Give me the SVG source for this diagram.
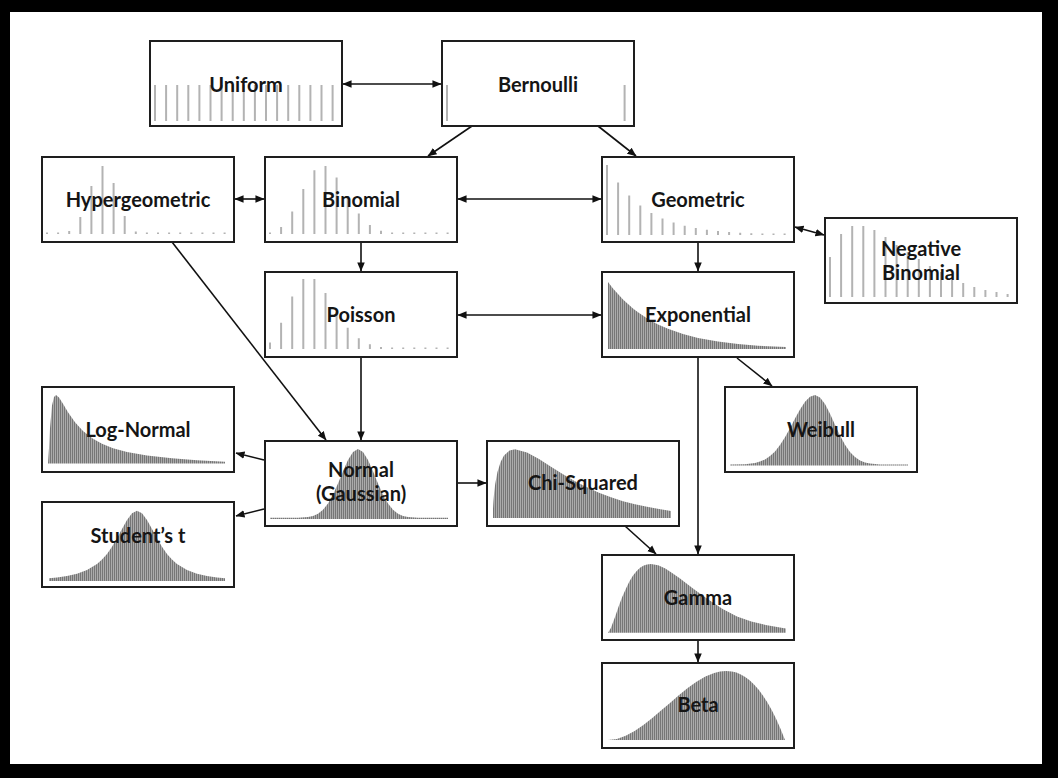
<svg xmlns="http://www.w3.org/2000/svg" width="1058" height="778" viewBox="0 0 1058 778">
<defs>
<style>
.box{fill:#fff;stroke:#1e1e1e;stroke-width:2}
.bars{fill:none;stroke:#b3b3b3;stroke-width:2}
.cont{fill:url(#hatch)}
.lbl{font-family:Lato,"Open Sans","DejaVu Sans",sans-serif;font-weight:700;font-size:20px;fill:#151515;text-anchor:middle}
.edge{fill:none;stroke:#111;stroke-width:1.6}
</style>
<pattern id="hatch" width="2" height="4" patternUnits="userSpaceOnUse"><rect width="2" height="4" fill="#ababab"/><rect width="1" height="4" fill="#767676"/></pattern>
<marker id="ah" viewBox="0 0 10 10" refX="9.5" refY="5" markerWidth="9" markerHeight="9" markerUnits="userSpaceOnUse" orient="auto-start-reverse"><path d="M0,0.8 L10,5 L0,9.2 Z" fill="#111"/></marker>
</defs>
<rect x="0" y="0" width="1058" height="778" fill="#000"/>
<rect x="10" y="12" width="1032" height="752" fill="#fff"/>

<g id="connectors">
<line class="edge" x1="343" y1="84" x2="441" y2="84" marker-start="url(#ah)" marker-end="url(#ah)"/>
<line class="edge" x1="472" y1="126" x2="428" y2="156" marker-end="url(#ah)"/>
<line class="edge" x1="598" y1="126" x2="636" y2="156" marker-end="url(#ah)"/>
<line class="edge" x1="235" y1="199" x2="264" y2="199" marker-start="url(#ah)" marker-end="url(#ah)"/>
<line class="edge" x1="458" y1="199" x2="601" y2="199" marker-start="url(#ah)" marker-end="url(#ah)"/>
<line class="edge" x1="795" y1="227" x2="824" y2="235" marker-start="url(#ah)" marker-end="url(#ah)"/>
<line class="edge" x1="361" y1="242" x2="361" y2="271" marker-end="url(#ah)"/>
<line class="edge" x1="698" y1="242" x2="698" y2="271" marker-end="url(#ah)"/>
<line class="edge" x1="458" y1="315" x2="601" y2="315" marker-start="url(#ah)" marker-end="url(#ah)"/>
<line class="edge" x1="172" y1="242" x2="326" y2="440" marker-end="url(#ah)"/>
<line class="edge" x1="361" y1="358" x2="361" y2="440" marker-end="url(#ah)"/>
<line class="edge" x1="698" y1="358" x2="698" y2="554" marker-end="url(#ah)"/>
<line class="edge" x1="737" y1="358" x2="772" y2="386" marker-end="url(#ah)"/>
<line class="edge" x1="264" y1="460" x2="236" y2="453" marker-end="url(#ah)"/>
<line class="edge" x1="264" y1="509" x2="236" y2="516" marker-end="url(#ah)"/>
<line class="edge" x1="458" y1="483" x2="486" y2="483" marker-end="url(#ah)"/>
<line class="edge" x1="625" y1="526" x2="656" y2="554" marker-end="url(#ah)"/>
<line class="edge" x1="698" y1="641" x2="698" y2="662" marker-end="url(#ah)"/>
</g>

<g id="uniform" transform="translate(150,41)">
<rect class="box" width="192" height="85"/>
<path class="bars" d="M5,80V44M16.1,80V44M27.2,80V44M38.3,80V44M49.4,80V44M60.5,80V44M71.6,80V44M82.7,80V44M93.8,80V44M104.9,80V44M116,80V44M127.1,80V44M138.2,80V44M149.3,80V44M160.4,80V44M171.5,80V44M182.6,80V44"/>
<text class="lbl" x="96" y="51">Uniform</text>
</g>

<g id="bernoulli" transform="translate(442,41)">
<rect class="box" width="192" height="85"/>
<path class="bars" d="M5,80V44M182.6,80V44"/>
<text class="lbl" x="96" y="51">Bernoulli</text>
</g>

<g id="hypergeometric" transform="translate(42,157)">
<rect class="box" width="192" height="85"/>
<path class="bars" d="M5,77V75.5M16.1,77V75.5M27.2,77V74M38.3,77V60M49.4,77V29M60.5,77V9M71.6,77V26M82.7,77V59M93.8,77V74.5M104.9,77V75.5M116,77V75.5M127.1,77V75.5M138.2,77V75.5M149.3,77V75.5M160.4,77V75.5M171.5,77V75.5M182.6,77V75.5"/>
<text class="lbl" x="96" y="50">Hypergeometric</text>
</g>

<g id="binomial" transform="translate(265,157)">
<rect class="box" width="192" height="85"/>
<path class="bars" d="M5,77V75.5M16.1,77V69.9M27.2,77V54.5M38.3,77V32M49.4,77V13.2M60.5,77V9M71.6,77V20.4M82.7,77V39.2M93.8,77V56.5M104.9,77V67.9M116,77V73.7M127.1,77V75.5M138.2,77V75.5M149.3,77V75.5M160.4,77V75.5M171.5,77V75.5M182.6,77V75.5"/>
<text class="lbl" x="96" y="50">Binomial</text>
</g>

<g id="geometric" transform="translate(602,157)">
<rect class="box" width="192" height="85"/>
<path class="bars" d="M5,78V8M16.1,78V25.5M27.2,78V38.6M38.3,78V48.5M49.4,78V55.9M60.5,78V61.4M71.6,78V65.5M82.7,78V68.7M93.8,78V71M104.9,78V72.7M116,78V74.1M127.1,78V75M138.2,78V75.8M149.3,78V76.3M160.4,78V76.5M171.5,78V76.5M182.6,78V76.5"/>
<text class="lbl" x="96" y="50">Geometric</text>
</g>

<g id="negative-binomial" transform="translate(825,218)">
<rect class="box" width="192" height="85"/>
<path class="bars" d="M5,79V39M16.1,79V16M27.2,79V8M38.3,79V8M49.4,79V12M60.5,79V19M71.6,79V27M82.7,79V34M93.8,79V41M104.9,79V48M116,79V54M127.1,79V60M138.2,79V65M149.3,79V69M160.4,79V72M171.5,79V74M182.6,79V76"/>
<text class="lbl" x="96" y="38">Negative</text>
<text class="lbl" x="96" y="62">Binomial</text>
</g>

<g id="poisson" transform="translate(265,272)">
<rect class="box" width="192" height="85"/>
<path class="bars" d="M5,77V70.4M16.1,77V50.7M27.2,77V24.5M38.3,77V7M49.4,77V7M60.5,77V21M71.6,77V39.7M82.7,77V55.7M93.8,77V66.3M104.9,77V72.3M116,77V75.1M127.1,77V75.5M138.2,77V75.5M149.3,77V75.5M160.4,77V75.5M171.5,77V75.5M182.6,77V75.5"/>
<text class="lbl" x="96" y="50">Poisson</text>
</g>

<g id="exponential" transform="translate(602,272)">
<rect class="box" width="192" height="85"/>
<path class="cont" d="M6,77L6,10L11,16.4L16,22.1L21,27.4L26,32.1L31,36.4L36,40.2L46,46.9L56,52.4L66,56.8L81,62.1L96,65.9L116,69.6L136,72L156,73.7L184,75.1L184,77Z"/>
<text class="lbl" x="96" y="50">Exponential</text>
</g>

<g id="log-normal" transform="translate(42,387)">
<rect class="box" width="192" height="85"/>
<path class="cont" d="M6,76.5L7,61L8,41.2L10,18.5L12,10L14,8L17,10.4L21,16.7L26,25.2L33,35.3L41,44L51,51.8L60,56.8L71,61.2L85,65L105,68.4L130,71.2L155,73.2L183,74.8L183,76.5Z"/>
<text class="lbl" x="96" y="50">Log-Normal</text>
</g>

<g id="weibull" transform="translate(725,387)">
<rect class="box" width="192" height="85"/>
<path class="cont" d="M5,78.5L5,77.5L20,77.3L30,76L35,74.6L40,72.4L45,69.1L50,64.4L55,58L60,50.2L65,41.2L70,31.6L75,22.4L80,14.8L85,9.8L90,8L95,10.4L100,17L105,26.7L110,37.7L115,48.4L120,57.7L125,64.9L130,70.1L135,73.5L140,75.5L145,76.6L155,77.5L183,77.5L183,78.5Z"/>
<text class="lbl" x="96" y="50">Weibull</text>
</g>

<g id="normal" transform="translate(265,441)">
<rect class="box" width="192" height="85"/>
<path class="cont" d="M5,78L5,76.8L33,76.8L43,76.1L48,74.9L53,72.7L58,68.7L63,62.5L68,53.6L73,42.5L78,30.2L83,19L88,10.9L93,8L98,10.9L103,19L108,30.2L113,42.5L118,53.6L123,62.5L128,68.7L133,72.7L138,74.9L143,76.1L153,76.8L183,76.8L183,78Z"/>
<text class="lbl" x="96" y="36">Normal</text>
<text class="lbl" x="96" y="60">(Gaussian)</text>
</g>

<g id="chi-squared" transform="translate(487,441)">
<rect class="box" width="192" height="85"/>
<path class="cont" d="M6,77L6,68L6.4,61.1L7.1,52.3L8.2,42.9L10.4,31.2L13.7,20.7L17,14.6L22.5,9.6L28,8.3L40,11.5L52,18.1L64,25.7L76,33.2L88,40.2L100,46.3L112,51.7L124,56.2L136,60.3L148,63.2L160,65.8L172,68L184,70L184,77Z"/>
<text class="lbl" x="96" y="49">Chi-Squared</text>
</g>

<g id="students-t" transform="translate(42,502)">
<rect class="box" width="192" height="85"/>
<path class="cont" d="M7,79L7,76.2L15,75.5L25,74L35,71.8L45,68.1L55,62L60,57.6L65,51.9L70,44.8L75,36.3L80,27L85,18L90,11.2L95,8.7L100,11.2L105,18L110,27L115,36.3L120,44.8L125,51.9L130,57.6L135,62L145,68.1L155,71.8L165,74L175,75.5L183,76.2L183,79Z"/>
<text class="lbl" x="96" y="41">Student’s t</text>
</g>

<g id="gamma" transform="translate(602,555)">
<rect class="box" width="192" height="85"/>
<path class="cont" d="M6,77.7L8.9,72.9L13.2,61.4L16.7,51.3L20.3,41.8L24,33.4L27.5,26.3L31,20.5L34.7,16L38,12.8L41.8,10.6L45,9.4L49,9L56.2,10.3L63.3,13.6L70.5,18.2L77.7,23.3L92,34.3L106.3,44.6L120.7,54L135,61.5L149.3,66.5L163.7,70L178,72.6L183.8,73.4L183.8,77.7Z"/>
<text class="lbl" x="96" y="50">Gamma</text>
</g>

<g id="beta" transform="translate(602,663)">
<rect class="box" width="192" height="85"/>
<path class="cont" d="M6,77L14.9,75.9L23.7,72.8L32.6,68.1L41.4,62.1L50.3,55.1L59,47.6L68,39.9L76.8,32.2L85.7,25L94.5,18.7L103.4,13.5L112.2,9.9L118,8.4L124,8L129.9,8.5L134.4,9.6L138.8,11.4L143.2,14L147.6,17.3L152,21.5L156.5,26.5L160.9,32.4L165.3,39.2L169.7,47.1L174.2,56L178.6,65.9L183,77Z"/>
<text class="lbl" x="96" y="49">Beta</text>
</g>
</svg>
